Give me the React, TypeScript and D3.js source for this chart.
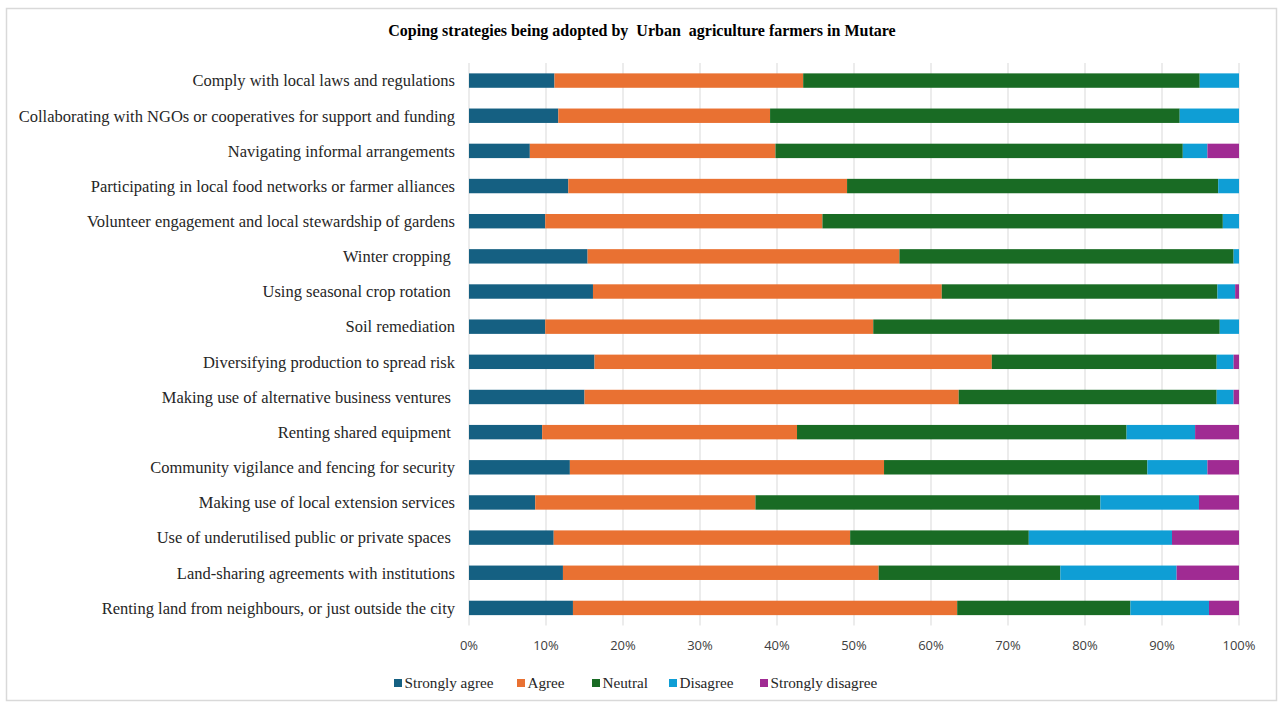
import React from "react";
import * as d3 from "d3";

const categories = [
  "Comply with local laws and regulations",
  "Collaborating with NGOs or cooperatives for support and funding",
  "Navigating informal arrangements",
  "Participating in local food networks or farmer alliances",
  "Volunteer engagement and local stewardship of gardens",
  "Winter cropping ",
  "Using seasonal crop rotation ",
  "Soil remediation",
  "Diversifying production to spread risk",
  "Making use of alternative business ventures ",
  "Renting shared equipment ",
  "Community vigilance and fencing for security",
  "Making use of local extension services",
  "Use of underutilised public or private spaces ",
  "Land-sharing agreements with institutions",
  "Renting land from neighbours, or just outside the city",
];

const seriesNames = ["Strongly agree", "Agree", "Neutral", "Disagree", "Strongly disagree"];

const stronglyAgree = [11.1, 11.6, 7.9, 12.9, 9.9, 15.4, 16.1, 9.9, 16.3, 15.0, 9.5, 13.1, 8.6, 11.0, 12.2, 13.5];
const agree = [32.3, 27.5, 31.9, 36.2, 36.0, 40.5, 45.3, 42.6, 51.6, 48.6, 33.1, 40.8, 28.6, 38.5, 41.0, 49.9];
const neutral = [51.5, 53.2, 52.9, 48.2, 52.0, 43.4, 35.8, 45.0, 29.2, 33.5, 42.8, 34.2, 44.8, 23.2, 23.6, 22.5];
const disagree = [5.1, 7.7, 3.2, 2.7, 2.1, 0.7, 2.3, 2.5, 2.2, 2.2, 8.9, 7.8, 12.8, 18.6, 15.1, 10.2];
const stronglyDisagree = [0, 0, 4.1, 0, 0, 0, 0.5, 0, 0.7, 0.7, 5.7, 4.1, 5.2, 8.7, 8.1, 3.9];

const tickValues = [0, 0.1, 0.2, 0.3, 0.4, 0.5, 0.6, 0.7, 0.8, 0.9, 1.0];

const colors = ["#156082", "#E97132", "#196B24", "#0F9ED5", "#A02B93"];

const W = 1279;
const H = 702;
const plotLeft = 469;
const plotRight = 1239;
const plotTop = 63;
const plotBottom = 625.5;

const serif = "'Liberation Serif', 'Times New Roman', serif";

export default function App() {
  const seriesArrays = [stronglyAgree, agree, neutral, disagree, stronglyDisagree];
  const rows = categories.map((c, i) => {
    const r: any = { cat: c };
    seriesNames.forEach((s, k) => (r[s] = seriesArrays[k][i]));
    return r;
  });
  const stack = d3.stack<any>().keys(seriesNames).offset(d3.stackOffsetExpand);
  const stacked = stack(rows);

  const x = d3.scaleLinear().domain([0, 1]).range([plotLeft, plotRight]);
  const y = d3.scaleBand().domain(categories).range([plotTop, plotBottom]).paddingInner(0.59).paddingOuter(0.295);

  const fmt = d3.format(".0%");

  const legendItems = [
    { name: "Strongly agree", x: 394 },
    { name: "Agree", x: 517 },
    { name: "Neutral", x: 592 },
    { name: "Disagree", x: 669 },
    { name: "Strongly disagree", x: 760 },
  ];

  return (
    <svg width={W} height={H} style={{ position: "absolute", left: 0, top: 0, background: "#fff" }}>
      <rect x={6.5} y={8.5} width={1270} height={692} fill="#fff" stroke="#D9D9D9" strokeWidth={1.5} />
      <text
        x={642}
        y={36}
        textAnchor="middle"
        fontFamily={serif}
        fontWeight="bold"
        fontSize={16}
        fill="#000"
        style={{ whiteSpace: "pre" }}
      >
        {"Coping strategies being adopted by  Urban  agriculture farmers in Mutare"}
      </text>
      {tickValues.map((t) => (
        <line key={"g" + t} x1={x(t)} x2={x(t)} y1={plotTop} y2={plotBottom} stroke="#D9D9D9" strokeWidth={1} />
      ))}
      {stacked.map((s, k) => (
        <g key={s.key} fill={colors[k]}>
          {s.map((d, i) => (
            <rect
              key={i}
              x={x(d[0])}
              width={Math.max(0, x(d[1]) - x(d[0]))}
              y={y(categories[i])!}
              height={y.bandwidth()}
            />
          ))}
        </g>
      ))}
      {categories.map((c) => (
        <text
          key={c}
          x={455}
          y={y(c)! + y.bandwidth() / 2}
          dy="0.35em"
          textAnchor="end"
          fontFamily={serif}
          fontSize={16.5}
          fill="#262626"
          style={{ whiteSpace: "pre" }}
        >
          {c}
        </text>
      ))}
      {tickValues.map((t) => (
        <text
          key={"t" + t}
          x={x(t)}
          y={650}
          textAnchor="middle"
          fontFamily="'Open Sans', 'Liberation Sans', sans-serif"
          fontSize={13}
          fill="#404040"
        >
          {fmt(t)}
        </text>
      ))}
      {legendItems.map((l, k) => (
        <g key={l.name}>
          <rect x={l.x} y={679} width={8} height={8} fill={colors[k]} />
          <text x={l.x + 10.5} y={683} dy="0.35em" fontFamily={serif} fontSize={15.2} fill="#262626">
            {l.name}
          </text>
        </g>
      ))}
    </svg>
  );
}
